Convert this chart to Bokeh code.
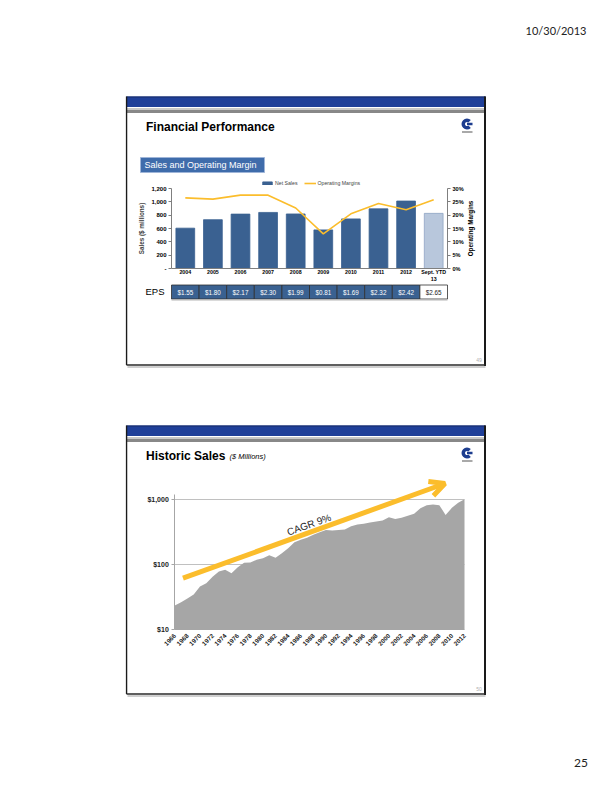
import math
from bokeh.plotting import figure
from bokeh.layouts import column, row
from bokeh.models import (Range1d, LinearAxis, LogAxis, LogScale, FixedTicker,
                          Legend, LegendItem, Spacer, Arrow, OpenHead)
from bokeh.core.properties import value
from bokeh.embed import file_html
from bokeh.resources import INLINE

# ---------------- data: slide 1 ----------------
categories = ["2004", "2005", "2006", "2007", "2008", "2009", "2010", "2011", "2012", "Sept. YTD\n13"]
net_sales = [605, 732, 816, 841, 818, 579, 744, 895, 1012, 827]
operating_margins = [26.5, 26.0, 27.5, 27.5, 22.7, 13.0, 20.5, 24.4, 22.0, 25.8]
eps_labels = ["$1.55", "$1.80", "$2.17", "$2.30", "$1.99", "$0.81", "$1.69", "$2.32", "$2.42", "$2.65"]
sales_ticks = [0, 200, 400, 600, 800, 1000, 1200]
sales_tick_labels = ["-", "200", "400", "600", "800", "1,000", "1,200"]
margin_ticks = [0, 5, 10, 15, 20, 25, 30]
margin_tick_labels = ["0%", "5%", "10%", "15%", "20%", "25%", "30%"]

# ---------------- data: slide 2 ----------------
hist_years = list(range(1966, 2013))
hist_sales = [23.4, 26.3, 30, 34.6, 45.7, 51.6, 65, 78, 83, 73.5,
              91, 106, 107, 118, 125, 139, 127, 149, 178, 220,
              240, 258, 286, 314, 340, 333, 340, 347, 388, 412,
              423, 443, 458, 475, 535, 501, 524, 564, 605, 732,
              816, 841, 818, 579, 744, 895, 1012]
year_ticks = list(range(1966, 2013, 2))
log_ticks = [10, 100, 1000]
log_tick_labels = ["$10", "$100", "$1,000"]
gridline_values = [100, 1000]
cagr_label = "CAGR 9%"
cagr_years = [1967.3, 2008.9]
cagr_values = [61.6, 1762]
cagr_label_year = 1987.3
cagr_label_value = 410

# ---------------- styles ----------------
FONT = "Liberation Sans"
BLUE_BAR = "#1f3f99"
BAR = "#3a6191"
BAR_YTD = "#b8c7dc"
GOLD = "#fbbd2c"
AREA = "#a6a6a6"


def lin_map(v_a, p_a, v_b, p_b, p_start, p_end):
    k = (v_b - v_a) / (p_b - p_a)
    return v_a + (p_start - p_a) * k, v_a + (p_end - p_a) * k


def base_fig(w, h, x0, x1, y_bottom, y_top, **kw):
    p = figure(width=w, height=h, x_range=Range1d(x0, x1), y_range=Range1d(y_bottom, y_top),
               x_axis_type=None, y_axis_type=None, toolbar_location=None,
               output_backend="svg", min_border=0, outline_line_color=None,
               background_fill_color="white", border_fill_color="white", **kw)
    return p


def txt(p, x, y, t, size, color="black", style="normal", align="left", font=FONT, angle=0, **kw):
    p.text(x=[x], y=[y], text=[t], text_font=value(font), text_font_size=size,
           text_font_style=style, text_color=color, text_align=align,
           text_baseline="middle", angle=angle, **kw)


def slide_frame(p, top, bottom, title, page_no, subtitle=None):
    L, R = 126, 485
    p.quad(left=L, right=R, top=top, bottom=top + 10.5, fill_color=BLUE_BAR, line_color=None)
    p.quad(left=L, right=R, top=top, bottom=top + 1, fill_color="#182c68", line_color=None)
    p.quad(left=L, right=R, top=top + 11.5, bottom=top + 13.5, fill_color="#c8c8c8", line_color=None)
    p.quad(left=L, right=R, top=top + 13.5, bottom=top + 16.5, fill_color="#888888", line_color=None)
    p.segment(x0=[L], y0=[top], x1=[L], y1=[bottom], line_color="#1a1a1a", line_width=1.5)
    p.segment(x0=[R - 0.5], y0=[top], x1=[R - 0.5], y1=[bottom + 1], line_color="#1a1a1a", line_width=2)
    p.segment(x0=[L], y0=[bottom], x1=[R], y1=[bottom], line_color="#2a2a2a", line_width=1.5)
    p.segment(x0=[L + 1], y0=[bottom + 2], x1=[R], y1=[bottom + 2], line_color="#a0a0a0", line_width=1)
    # logo
    cy = top + 27.5
    p.annular_wedge(x=[466.5], y=[cy], inner_radius=2.0, outer_radius=5.5,
                    start_angle=0.8, end_angle=-0.8, fill_color="#1d3d8f", line_color=None)
    p.quad(left=466.5, right=472, top=cy - 1.2, bottom=cy + 1.3, fill_color="#1d3d8f", line_color=None)
    p.quad(left=461.5, right=472, top=cy + 7.5, bottom=cy + 8.5, fill_color="#555555", line_color=None)
    # title
    txt(p, 145.5, top + 30, title, "12px", style="bold")
    if subtitle:
        txt(p, 229, top + 31, subtitle, "7.5px", style="italic")
    txt(p, 478.5, bottom - 5.5, page_no, "5px", color="#b0b0b0", align="center")


# ================= slide 1 =================
S1_TOP, S1_BOT = 94, 368
s1 = base_fig(361, 274, 125, 486, S1_BOT, S1_TOP)
slide_frame(s1, 96, 364.5, "Financial Performance", "49")

n = len(categories)
idx = list(range(n))
cx0, cx1 = lin_map(-0.5, 171, n - 0.5, 447, 125, 486)
sy0, sy1 = lin_map(0, 268, 1200, 188, S1_BOT, S1_TOP)
my0, my1 = lin_map(0, 268, 30, 188, S1_BOT, S1_TOP)
s1.extra_x_ranges = {"cat": Range1d(cx0, cx1)}
s1.extra_y_ranges = {"sales": Range1d(sy0, sy1), "pct": Range1d(my0, my1)}

# section box
s1.quad(left=140, right=264, top=157, bottom=172, fill_color="#3f6cab", line_color="#9fb5d8", line_width=1)
txt(s1, 144, 164.8, "Sales and Operating Margin", "9px", color="white")

bar_colors = [BAR] * (n - 1) + [BAR_YTD]
bar_lines = [BAR] * (n - 1) + ["#8fa5c4"]
bars = s1.vbar(x=idx, top=net_sales, bottom=0, width=0.68, fill_color=bar_colors,
               line_color=bar_lines, line_width=0.8, x_range_name="cat", y_range_name="sales")
mline = s1.line(x=idx, y=operating_margins, line_color=GOLD, line_width=1.6,
                x_range_name="cat", y_range_name="pct")

AX = "#7f7f7f"
left = LinearAxis(x_range_name="cat", y_range_name="sales", fixed_location=-0.5,
                  ticker=FixedTicker(ticks=sales_ticks),
                  major_label_overrides=dict(zip(sales_ticks, sales_tick_labels)),
                  bounds=(0, 1200), axis_label="Sales ($ millions)")
right = LinearAxis(x_range_name="cat", y_range_name="pct", fixed_location=n - 0.5,
                   ticker=FixedTicker(ticks=margin_ticks),
                   major_label_overrides=dict(zip(margin_ticks, margin_tick_labels)),
                   bounds=(0, 30))
bottom_ax = LinearAxis(x_range_name="cat", y_range_name="sales", fixed_location=0,
                       ticker=FixedTicker(ticks=idx),
                       major_label_overrides=dict(zip(idx, categories)),
                       bounds=(-0.5, n - 0.5))
for ax, size in ((left, "6px"), (right, "5.6px"), (bottom_ax, "5.3px")):
    ax.axis_line_color = AX
    ax.major_tick_line_color = AX
    ax.major_tick_out = 3
    ax.major_tick_in = 0
    ax.minor_tick_line_color = None
    ax.major_label_text_font = FONT
    ax.major_label_text_font_size = size
    ax.major_label_text_font_style = "bold"
    ax.major_label_text_color = "black"
    ax.major_label_standoff = 2
    ax.axis_label_text_font = FONT
    ax.axis_label_text_font_size = "6.3px"
    ax.axis_label_text_font_style = "bold"
    ax.axis_label_standoff = 3
bottom_ax.major_tick_line_color = None
bottom_ax.major_tick_out = 0
bottom_ax.major_label_standoff = 0
s1.add_layout(left, "left")
s1.add_layout(right, "right")
s1.add_layout(bottom_ax, "below")

# secondary axis title, rotated to read bottom-to-top
s1.text(x=[n + 0.33], y=[15], text=["Operating Margins"], angle=math.pi / 2,
        text_font=value(FONT), text_font_size="6.3px", text_font_style="bold",
        text_color="black", text_align="center", text_baseline="middle",
        x_range_name="cat", y_range_name="pct")

legend = Legend(items=[LegendItem(label="Net Sales", renderers=[bars], index=0),
                       LegendItem(label="Operating Margins", renderers=[mline])],
                orientation="horizontal", location=(136, 182), padding=0, margin=0,
                spacing=6, glyph_height=4, glyph_width=12, label_standoff=2,
                label_text_font=FONT, label_text_font_size="5.2px", label_height=6,
                border_line_color=None, background_fill_alpha=0)
s1.add_layout(legend)

# EPS row
txt(s1, 145, 291, "EPS", "9.5px")
cell_colors = [BAR] * (n - 1) + ["white"]
cell_text = ["white"] * (n - 1) + ["#222222"]
s1.rect(x=idx, y=291.5, width=1, height=14, fill_color=cell_colors, line_color="#2e2e2e",
        line_width=0.8, x_range_name="cat")
s1.segment(x0=[-0.5], y0=[299.3], x1=[n - 0.5], y1=[299.3], line_color="#b5b5b5",
           line_width=1.2, x_range_name="cat")
s1.text(x=idx, y=291.5, text=eps_labels, text_font=value(FONT), text_font_size="6.3px",
        text_color=cell_text, text_align="center", text_baseline="middle", x_range_name="cat")

# ================= slide 2 =================
S2_TOP, S2_BOT = 423, 697
s2 = base_fig(361, 274, 125, 486, S2_BOT, S2_TOP)
slide_frame(s2, 425, 693.5, "Historic Sales", "50", subtitle="($ Millions)")

yx0, yx1 = lin_map(1966, 174.3, 2012, 464, 125, 486)
ly0, ly1 = lin_map(1, 629, 3, 499, S2_BOT, S2_TOP)
s2.extra_x_ranges = {"yr": Range1d(yx0, yx1)}
s2.extra_y_ranges = {"log": Range1d(10 ** ly0, 10 ** ly1)}
s2.extra_y_scales = {"log": LogScale()}

s2.segment(x0=hist_years[0], x1=hist_years[-1], y0=gridline_values, y1=gridline_values,
           line_color="#c0c0c0", line_width=1, x_range_name="yr", y_range_name="log")
s2.varea(x=hist_years, y1=10, y2=hist_sales, fill_color=AREA, x_range_name="yr", y_range_name="log")

yax = LogAxis(x_range_name="yr", y_range_name="log", fixed_location=hist_years[0],
              ticker=FixedTicker(ticks=log_ticks),
              major_label_overrides=dict(zip(log_ticks, log_tick_labels)), bounds=(10, 1200))
xax = LinearAxis(x_range_name="yr", y_range_name="log", fixed_location=10,
                 ticker=FixedTicker(ticks=year_ticks), bounds=(hist_years[0], hist_years[-1]),
                 major_label_orientation=math.pi / 4)
for ax, size in ((yax, "7px"), (xax, "6.3px")):
    ax.axis_line_color = "#a6a6a6"
    ax.major_tick_line_color = "#a6a6a6"
    ax.major_tick_out = 3
    ax.major_tick_in = 0
    ax.minor_tick_line_color = None
    ax.major_label_text_font = FONT
    ax.major_label_text_font_size = size
    ax.major_label_text_font_style = "bold"
    ax.major_label_text_color = "#222222"
    ax.major_label_standoff = 3
xax.major_tick_line_color = None
xax.major_label_standoff = 2
s2.add_layout(yax, "left")
s2.add_layout(xax, "below")

arrow = Arrow(x_start=cagr_years[0], y_start=cagr_values[0], x_end=cagr_years[1], y_end=cagr_values[1],
              x_range_name="yr", y_range_name="log", line_color=GOLD, line_width=5,
              end=OpenHead(size=15, line_color=GOLD, line_width=5))
s2.add_layout(arrow)
s2.text(x=[cagr_label_year], y=[cagr_label_value], text=[cagr_label], angle=0.346,
        text_font=value(FONT), text_font_size="10px", text_color="#262626",
        text_align="center", text_baseline="middle", x_range_name="yr", y_range_name="log")

# ================= page furniture =================
top_fig = base_fig(612, 94, 0, 612, 94, 0)
txt(top_fig, 586, 30, "10/30/2013", "11px", color="#222222", align="right", font="Lato")
bot_fig = base_fig(612, 95, 0, 612, 792, 697)
txt(bot_fig, 580.5, 762, "25", "12px", color="#222222", align="center", font="Lato")

page = column(top_fig,
              row(Spacer(width=125, height=274), s1),
              Spacer(width=612, height=55),
              row(Spacer(width=125, height=274), s2),
              bot_fig)

open("out.html", "w").write(file_html(page, INLINE, title="Financial Performance"))
